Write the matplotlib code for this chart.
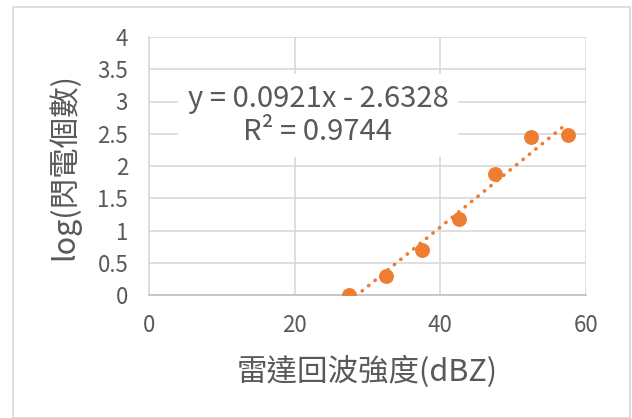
import numpy as np
import matplotlib.pyplot as plt
from matplotlib.patches import Rectangle

plt.rcParams['font.family'] = ['Noto Sans CJK TC', 'DejaVu Sans']

# 雷達回波強度 (dBZ) vs log(閃電個數)
dbz = [27.5, 32.5, 37.5, 42.5, 47.5, 52.5, 57.5]
log_count = [0.0, 0.30, 0.70, 1.18, 1.88, 2.45, 2.48]

x_label = '雷達回波強度(dBZ)'
y_label = 'log(閃電個數)'
x_ticks = [0, 20, 40, 60]
y_ticks = [0, 0.5, 1, 1.5, 2, 2.5, 3, 3.5, 4]

orange = '#ED7D31'
grid_col = '#D9D9D9'
text_col = '#595959'

fig = plt.figure(figsize=(6.32, 4.18), dpi=100)
ax = fig.add_axes([149/632, 1 - 295/418, (586-149)/632, (295-37)/418])

# outer chart border
fig.patches.append(Rectangle((13/632, 0.0), (630-13)/632, (418-7)/418,
                             transform=fig.transFigure, fill=False,
                             edgecolor=grid_col, linewidth=1.2))

ax.scatter(dbz, log_count, s=115, color=orange, zorder=3, linewidths=0)

k, d = np.polyfit(dbz, log_count, 1)
xs = np.array([min(dbz), max(dbz)])
ax.plot(xs, k*xs + d, color=orange, linestyle=(0, (0.1, 2.2)), linewidth=2.6,
        dash_capstyle='round', zorder=2)

ax.set_xlim(0, 60)
ax.set_ylim(0, 4)
ax.set_xticks(x_ticks)
ax.set_yticks(y_ticks)
ax.set_yticklabels(['0', '0.5', '1', '1.5', '2', '2.5', '3', '3.5', '4'])
ax.grid(True, color=grid_col, linewidth=1.2)
ax.set_axisbelow(True)
for s in ['top', 'right']:
    ax.spines[s].set_visible(False)
ax.spines['left'].set_color(grid_col)
ax.spines['bottom'].set_color('#BFBFBF')
ax.spines['left'].set_linewidth(1.2)
ax.spines['bottom'].set_linewidth(1.2)
ax.tick_params(length=0, labelsize=16, colors=text_col)
ax.tick_params(axis='y', pad=15)
ax.tick_params(axis='x', pad=14)

ax.set_xlabel(x_label, fontsize=22, color=text_col, labelpad=13)
ax.set_ylabel(y_label, fontsize=22, color=text_col, labelpad=12)

ax.text(23.2, 2.78, 'y = 0.0921x - 2.6328\nR² = 0.9744', ha='center', va='center',
        fontsize=21, color=text_col, linespacing=1.15,
        bbox=dict(facecolor='white', edgecolor='none', pad=7), zorder=4)

fig.savefig('out.png', dpi=100)
